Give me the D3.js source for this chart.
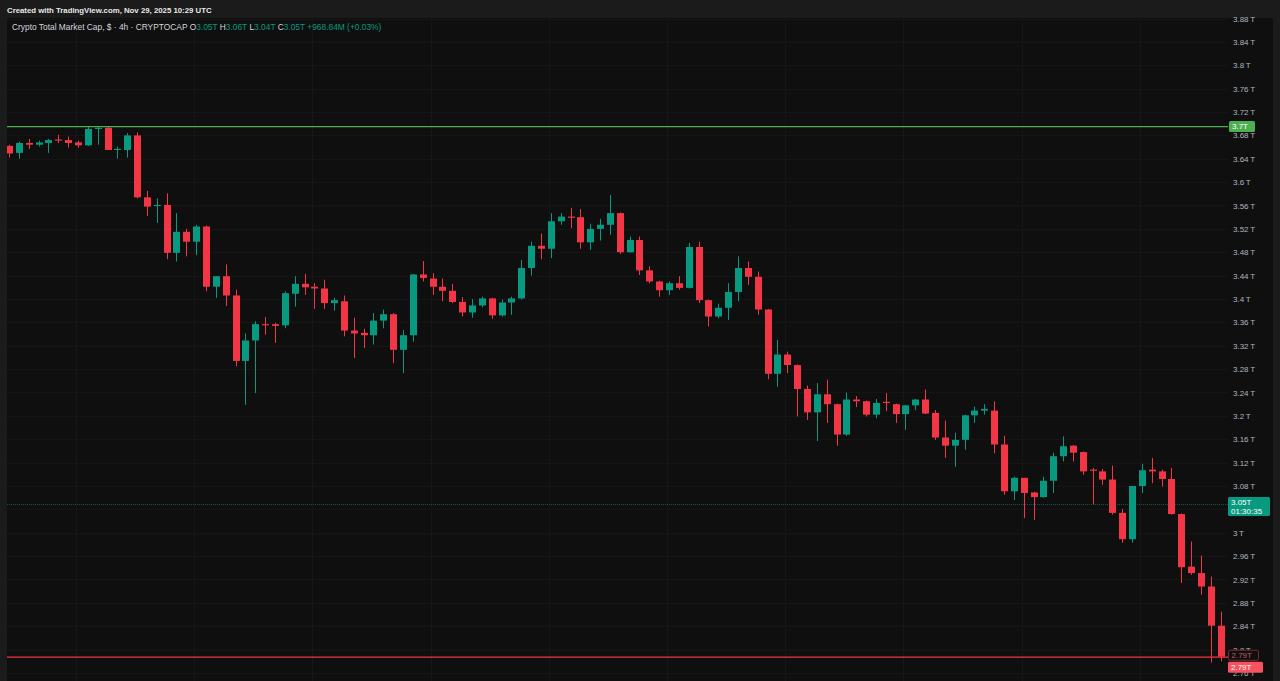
<!DOCTYPE html>
<html><head><meta charset="utf-8">
<script src="https://cdn.jsdelivr.net/npm/d3@7"></script>
<style>html,body{margin:0;padding:0;background:#1b1b1b;overflow:hidden}svg{display:block}</style>
</head><body>
<svg id="c" width="1280" height="681"></svg>
<script>
// ---- data (values in trillions USD, 4h candles) ----
const opens = [3.662,3.650,3.667,3.664,3.667,3.673,3.672,3.668,3.663,3.691,
3.693,3.655,3.655,3.680,3.574,3.559,3.561,3.479,3.515,3.498,
3.524,3.421,3.439,3.406,3.294,3.329,3.357,3.357,3.355,3.409,
3.426,3.421,3.418,3.393,3.396,3.346,3.342,3.338,3.363,3.374,
3.313,3.338,3.442,3.435,3.421,3.414,3.395,3.377,3.389,3.401,
3.372,3.394,3.401,3.453,3.491,3.486,3.533,3.541,3.540,3.497,
3.520,3.527,3.547,3.480,3.501,3.449,3.430,3.415,3.427,3.419,
3.489,3.398,3.370,3.385,3.412,3.453,3.438,3.382,3.272,3.305,
3.287,3.246,3.206,3.237,3.220,3.168,3.228,3.225,3.202,3.224,
3.220,3.203,3.218,3.228,3.205,3.163,3.149,3.159,3.201,3.209,
3.209,3.151,3.071,3.094,3.069,3.061,3.089,3.131,3.149,3.138,
3.108,3.105,3.091,3.034,2.989,3.080,3.108,3.105,3.092,3.032,
2.942,2.931,2.908,2.841];
const highs = [3.664,3.669,3.674,3.671,3.674,3.681,3.678,3.671,3.695,3.695,
3.695,3.661,3.684,3.685,3.585,3.572,3.581,3.547,3.520,3.527,
3.526,3.439,3.459,3.416,3.341,3.362,3.369,3.359,3.413,3.439,
3.443,3.427,3.433,3.402,3.406,3.368,3.349,3.376,3.382,3.376,
3.347,3.443,3.465,3.444,3.435,3.426,3.403,3.400,3.404,3.402,
3.399,3.404,3.467,3.498,3.512,3.547,3.547,3.556,3.554,3.529,
3.537,3.578,3.548,3.507,3.507,3.456,3.431,3.430,3.439,3.496,
3.498,3.399,3.392,3.427,3.473,3.464,3.447,3.383,3.330,3.310,
3.288,3.252,3.256,3.262,3.221,3.240,3.234,3.226,3.229,3.239,
3.221,3.219,3.229,3.245,3.210,3.192,3.171,3.202,3.216,3.220,
3.225,3.166,3.096,3.094,3.070,3.096,3.137,3.165,3.150,3.139,
3.111,3.109,3.115,3.041,3.080,3.118,3.128,3.108,3.111,3.033,
2.985,2.961,2.925,2.865];
const lows = [3.642,3.640,3.657,3.661,3.650,3.667,3.659,3.659,3.662,3.664,
3.655,3.640,3.642,3.572,3.542,3.530,3.468,3.464,3.473,3.475,
3.413,3.402,3.388,3.285,3.219,3.239,3.339,3.325,3.350,3.387,
3.407,3.383,3.383,3.380,3.336,3.299,3.316,3.322,3.350,3.290,
3.273,3.327,3.430,3.407,3.396,3.393,3.370,3.368,3.386,3.366,
3.370,3.373,3.399,3.440,3.468,3.470,3.527,3.521,3.486,3.484,
3.500,3.510,3.477,3.479,3.441,3.427,3.404,3.407,3.416,3.418,
3.393,3.353,3.367,3.364,3.396,3.424,3.373,3.263,3.250,3.273,
3.199,3.193,3.157,3.188,3.149,3.166,3.215,3.199,3.196,3.208,
3.188,3.176,3.210,3.203,3.159,3.128,3.113,3.142,3.188,3.202,
3.136,3.065,3.056,3.025,3.022,3.060,3.068,3.122,3.122,3.099,
3.048,3.082,3.031,2.983,2.983,3.068,3.085,3.079,3.031,2.914,
2.928,2.894,2.778,2.780];
const closes = [3.649,3.667,3.664,3.668,3.672,3.671,3.667,3.663,3.691,3.693,
3.655,3.657,3.680,3.574,3.558,3.561,3.479,3.515,3.498,3.524,
3.421,3.439,3.406,3.294,3.329,3.357,3.355,3.354,3.410,3.426,
3.420,3.418,3.393,3.398,3.346,3.341,3.338,3.363,3.374,3.313,
3.338,3.442,3.436,3.421,3.414,3.395,3.377,3.389,3.401,3.372,
3.394,3.401,3.453,3.491,3.486,3.533,3.541,3.539,3.497,3.520,
3.527,3.547,3.480,3.501,3.449,3.430,3.415,3.427,3.419,3.489,
3.398,3.370,3.385,3.412,3.453,3.438,3.382,3.272,3.305,3.287,
3.246,3.206,3.237,3.220,3.168,3.228,3.225,3.202,3.222,3.222,
3.203,3.218,3.228,3.204,3.163,3.149,3.159,3.201,3.209,3.212,
3.151,3.071,3.094,3.068,3.061,3.089,3.131,3.148,3.137,3.105,
3.106,3.091,3.034,2.989,3.080,3.107,3.105,3.092,3.032,2.941,
2.931,2.908,2.841,2.788];
const yTicks = [2.76,2.8,2.84,2.88,2.92,2.96,3.0,3.04,3.08,3.12,3.16,3.2,3.24,3.28,3.32,3.36,3.4,3.44,3.48,3.52,3.56,3.6,3.64,3.68,3.72,3.76,3.8,3.84,3.88];
const gridCandles = [7,19,31,43,55,67,79,91,103,115];
const levelHigh = 3.695, levelHighLabel = "3.7T";
const levelLow = 2.787, levelLowLabel = "2.79T";
const lastPrice = 3.05, lastPriceLabel = "3.05T", countdown = "01:30:35";
const headerText = "Created with TradingView.com, Nov 29, 2025 10:29 UTC";
const titleText = "Crypto Total Market Cap, $ · 4h · CRYPTOCAP";
const ohlcLabels = [["O","3.05T"],["H","3.06T"],["L","3.04T"],["C","3.05T"]];
const changeText = "+968.84M (+0.03%)";

// ---- drawing ----
const UP = "#089981", DOWN = "#f23645";
const font = "'Liberation Sans', Arial, sans-serif";
const svg = d3.select("#c");
const paneL = 7, paneT = 18, paneR = 1273, plotR = 1228, H = 681;

svg.append("rect").attr("x",0).attr("y",0).attr("width",1280).attr("height",H).attr("fill","#1b1b1b");
svg.append("rect").attr("x",paneL).attr("y",paneT).attr("width",paneR-paneL).attr("height",H-paneT).attr("fill","#0f0f0f");

const n = opens.length;
const candles = d3.range(n).map(i => ({i, o:opens[i], h:highs[i], l:lows[i], c:closes[i]}));
const x = d3.scaleLinear().domain([0, n-1]).range([9, 1220.7]);
const y = d3.scaleLinear().domain([2.76, 3.88]).range([673, 18.5]);

svg.append("defs").append("clipPath").attr("id","pc").append("rect")
  .attr("x",paneL).attr("y",paneT).attr("width",plotR-paneL).attr("height",H-paneT);
const plot = svg.append("g").attr("clip-path","url(#pc)");

// grid
plot.append("g").selectAll("line").data(yTicks).join("line")
  .attr("x1",paneL).attr("x2",plotR).attr("y1",d=>Math.round(y(d))+0.5).attr("y2",d=>Math.round(y(d))+0.5)
  .attr("stroke","#151515").attr("stroke-width",1);
plot.append("g").selectAll("line").data(gridCandles).join("line")
  .attr("x1",d=>Math.round(x(d-0.2))+0.5).attr("x2",d=>Math.round(x(d-0.2))+0.5).attr("y1",paneT).attr("y2",H)
  .attr("stroke","#161616").attr("stroke-width",1);

// candles
const cg = plot.append("g").selectAll("g").data(candles).join("g");
cg.append("line")
  .attr("x1",d=>Math.round(x(d.i))+0.5).attr("x2",d=>Math.round(x(d.i))+0.5)
  .attr("y1",d=>y(d.h)).attr("y2",d=>y(d.l))
  .attr("stroke",d=>d.c>=d.o?UP:DOWN).attr("stroke-width",1);
const bw = 7;
cg.append("rect")
  .attr("x",d=>Math.round(x(d.i))+0.5-bw/2)
  .attr("y",d=>y(Math.max(d.o,d.c)))
  .attr("width",bw)
  .attr("height",d=>Math.max(1, Math.abs(y(d.o)-y(d.c))))
  .attr("fill",d=>d.c>=d.o?UP:DOWN);

// horizontal level lines
plot.append("line").attr("x1",paneL).attr("x2",plotR).attr("y1",y(levelHigh)).attr("y2",y(levelHigh))
  .attr("stroke","#4caf50").attr("stroke-width",1.3);
plot.append("line").attr("x1",paneL).attr("x2",plotR).attr("y1",y(levelLow)).attr("y2",y(levelLow))
  .attr("stroke","#f23645").attr("stroke-width",1.3);
plot.append("line").attr("x1",paneL).attr("x2",plotR).attr("y1",Math.round(y(lastPrice))+0.5).attr("y2",Math.round(y(lastPrice))+0.5)
  .attr("stroke",UP).attr("stroke-width",1).attr("stroke-dasharray","1,1").attr("opacity",0.5);

// price axis labels (the one under the last-price label is hidden, as in the source)
const fmt = v => (+v.toFixed(2)) + "\u2009T";
svg.append("g").selectAll("text").data(yTicks.filter(t => Math.abs(y(t) - y(lastPrice)) > 10)).join("text")
  .attr("x",1233).attr("y",d=>y(d)+3)
  .attr("font-family",font).attr("font-size",8).attr("fill","#b2b5be")
  .text(fmt);

// label boxes
function box(xl, yc, w, h, fill, stroke, lines, textFill){
  const g = svg.append("g");
  g.append("rect").attr("x",xl).attr("y",yc-h/2).attr("width",w).attr("height",h)
    .attr("fill",fill).attr("stroke",stroke||"none").attr("rx",1.5);
  lines.forEach((t,k)=>{
    g.append("text").attr("x",xl+3).attr("y",yc - h/2 + 8 + k*9)
      .attr("font-family",font).attr("font-size",8).attr("fill",textFill).text(t);
  });
}
box(1229, y(levelHigh), 26, 11, "#4caf50", null, [levelHighLabel], "#ffffff");
box(1228, y(lastPrice)+3, 42, 19, UP, null, [lastPriceLabel, countdown], "#ffffff");
box(1228.5, y(levelLow)-2, 30, 10, "#0f0f0f", "#7a2a30", [levelLowLabel], "#b56068");
box(1228, y(levelLow)+10, 35, 11, "#f7525f", null, [levelLowLabel], "#ffffff");

// header
svg.append("text").attr("x",7).attr("y",13).attr("font-family",font).attr("font-size",7.8)
  .attr("font-weight",600).attr("fill","#e8e8e8").text(headerText);
const lg = svg.append("text").attr("x",12).attr("y",30).attr("font-family",font).attr("font-size",8.4).attr("fill","#d1d4dc");
lg.append("tspan").text(titleText + "  ");
ohlcLabels.forEach(([k,v])=>{
  lg.append("tspan").attr("fill","#d1d4dc").text(" " + k);
  lg.append("tspan").attr("fill",UP).text(v);
});
lg.append("tspan").attr("fill",UP).text(" " + changeText);
</script>
</body></html>
